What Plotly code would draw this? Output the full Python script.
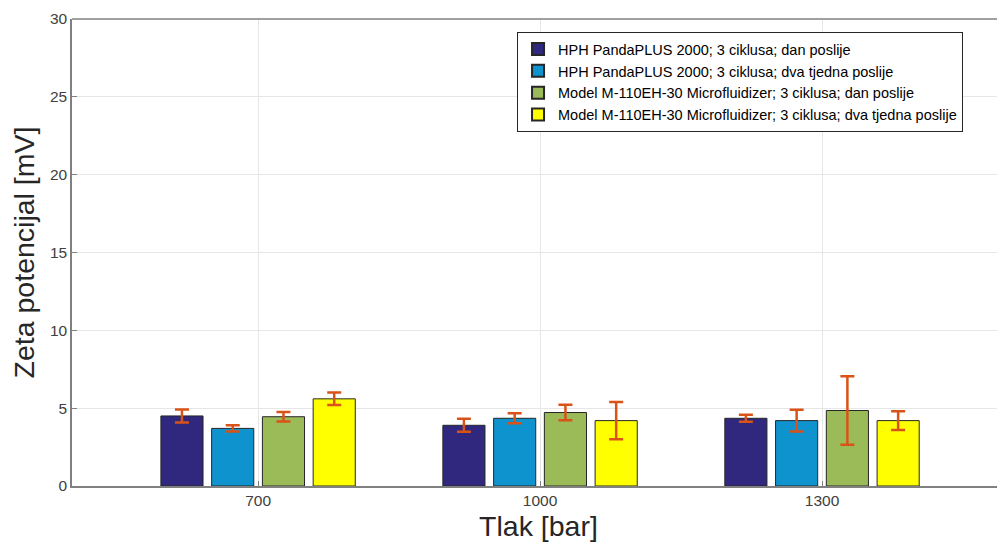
import plotly.graph_objects as go

pressures = ["700", "1000", "1300"]
series_names = [
    "HPH PandaPLUS 2000; 3 ciklusa; dan poslije",
    "HPH PandaPLUS 2000; 3 ciklusa; dva tjedna poslije",
    "Model M-110EH-30 Microfluidizer; 3 ciklusa; dan poslije",
    "Model M-110EH-30 Microfluidizer; 3 ciklusa; dva tjedna poslije",
]
hph_day = [4.5, 3.9, 4.35]
hph_day_err = [0.42, 0.42, 0.22]
hph_2w = [3.7, 4.35, 4.2]
hph_2w_err = [0.2, 0.32, 0.7]
mf_day = [4.45, 4.72, 4.85]
mf_day_err = [0.3, 0.5, 2.2]
mf_2w = [5.6, 4.2, 4.2]
mf_2w_err = [0.4, 1.2, 0.6]

colors = ["#30287F", "#0F93CF", "#9BBB59", "#FFFF00"]
err_color = "#D95319"

values = [hph_day, hph_2w, mf_day, mf_2w]
errors = [hph_day_err, hph_2w_err, mf_day_err, mf_2w_err]

fig = go.Figure()
for name, v, e, c in zip(series_names, values, errors, colors):
    fig.add_trace(go.Bar(
        x=pressures, y=v, name=name,
        marker=dict(color=c, line=dict(color="#262626", width=1)),
        error_y=dict(type="data", array=e, visible=True, color=err_color,
                     thickness=2.5, width=7),
    ))

fig.update_layout(
    width=997, height=534,
    margin=dict(l=64, r=0, t=11, b=56),
    paper_bgcolor="white", plot_bgcolor="white",
    barmode="group", bargap=0.28, bargroupgap=0.17,
    font=dict(family="Liberation Sans, Arial, sans-serif", color="#262626"),
    showlegend=True,
    legend=dict(
        x=0.477, y=0.972, xanchor="left", yanchor="top",
        bgcolor="white", bordercolor="#262626", borderwidth=1,
        font=dict(size=14.5, color="#000000"),
        tracegroupgap=0, itemsizing="constant",
    ),
    xaxis=dict(
        type="category", range=[-0.66, 2.649], automargin=False,
        showgrid=True, gridcolor="#E6E6E6", gridwidth=1,
        showline=True, linecolor="#808080", linewidth=1.5, mirror=False,
        ticks="inside", ticklen=5, tickcolor="#808080",
        tickfont=dict(size=15.5, color="#404040"),
        title=dict(text="Tlak [bar]", font=dict(size=28.5, color="#262626"), standoff=13),
    ),
    yaxis=dict(
        range=[0, 30], dtick=5, automargin=False,
        showgrid=True, gridcolor="#E6E6E6", gridwidth=1,
        showline=True, linecolor="#808080", linewidth=1.5, mirror=False,
        ticks="inside", ticklen=5, tickcolor="#808080",
        tickfont=dict(size=15.5, color="#404040"),
        zeroline=False,
        title=dict(text="Zeta potencijal [mV]", font=dict(size=28.5, color="#262626"), standoff=11),
    ),
)
# top border line of the axes box
fig.add_shape(type="line", xref="paper", yref="paper", x0=0, x1=1, y0=1, y1=1,
              line=dict(color="#808080", width=1.5))

fig.write_html("out.html")
